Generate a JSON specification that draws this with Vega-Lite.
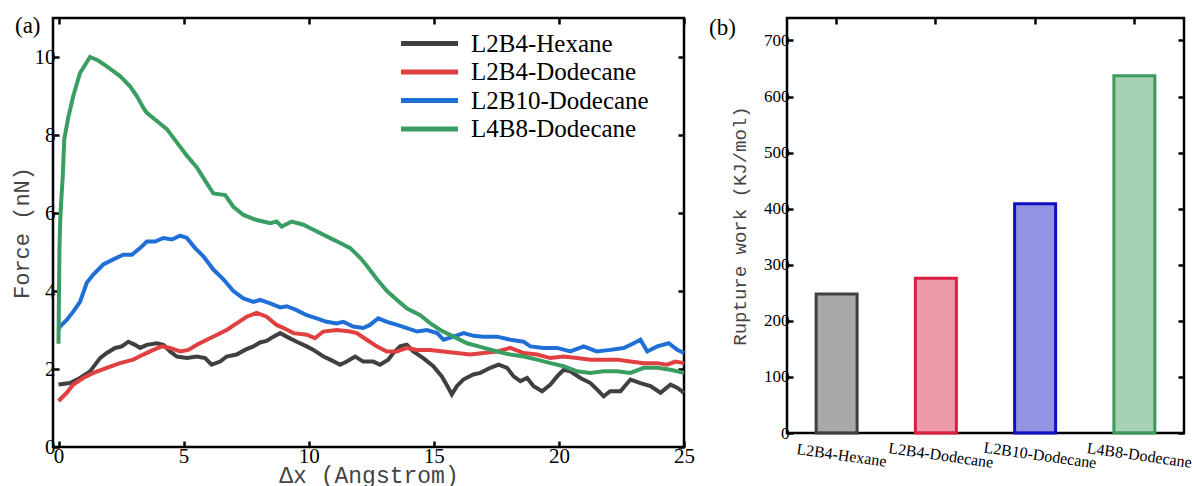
{
  "$schema": "https://vega.github.io/schema/vega-lite/v6.json",
  "background": "white",
  "padding": {"left": 8, "top": 13, "right": 5, "bottom": 0},
  "spacing": 11,
  "config": {
    "view": {"stroke": "black", "strokeWidth": 2.5},
    "font": "Liberation Serif",
    "axis": {
      "grid": false, "domain": false, "tickColor": "black", "tickWidth": 2.5, "tickSize": -6,
      "labelFont": "Liberation Serif", "labelColor": "black", "labelFontSize": 21,
      "titleFont": "Liberation Mono", "titleFontWeight": "normal", "titleColor": "#444444", "titleFontSize": 20
    },
    "title": {"font": "Liberation Serif", "fontWeight": "normal", "fontSize": 23, "color": "black"}
  },
  "hconcat": [
    {
      "width": 631,
      "height": 429,
      "title": {"text": "(a)", "anchor": "start", "frame": "group", "orient": "top", "offset": -21, "dx": -38},
      "data": {"values": [
        {"s":"L2B4-Hexane","x":0,"f":1.60},{"s":"L2B4-Hexane","x":0.46,"f":1.64},{"s":"L2B4-Hexane","x":0.86,"f":1.77},{"s":"L2B4-Hexane","x":1.26,"f":1.94},{"s":"L2B4-Hexane","x":1.66,"f":2.28},{"s":"L2B4-Hexane","x":1.93,"f":2.41},{"s":"L2B4-Hexane","x":2.26,"f":2.54},{"s":"L2B4-Hexane","x":2.53,"f":2.58},{"s":"L2B4-Hexane","x":2.79,"f":2.70},{"s":"L2B4-Hexane","x":3.06,"f":2.62},{"s":"L2B4-Hexane","x":3.26,"f":2.54},{"s":"L2B4-Hexane","x":3.53,"f":2.62},{"s":"L2B4-Hexane","x":3.93,"f":2.66},{"s":"L2B4-Hexane","x":4.19,"f":2.62},{"s":"L2B4-Hexane","x":4.46,"f":2.45},{"s":"L2B4-Hexane","x":4.73,"f":2.32},{"s":"L2B4-Hexane","x":5.13,"f":2.28},{"s":"L2B4-Hexane","x":5.53,"f":2.32},{"s":"L2B4-Hexane","x":5.86,"f":2.28},{"s":"L2B4-Hexane","x":6.12,"f":2.11},{"s":"L2B4-Hexane","x":6.46,"f":2.19},{"s":"L2B4-Hexane","x":6.72,"f":2.32},{"s":"L2B4-Hexane","x":7.12,"f":2.37},{"s":"L2B4-Hexane","x":7.45,"f":2.49},{"s":"L2B4-Hexane","x":7.79,"f":2.58},{"s":"L2B4-Hexane","x":8.05,"f":2.68},{"s":"L2B4-Hexane","x":8.32,"f":2.72},{"s":"L2B4-Hexane","x":8.59,"f":2.83},{"s":"L2B4-Hexane","x":8.86,"f":2.92},{"s":"L2B4-Hexane","x":9.12,"f":2.83},{"s":"L2B4-Hexane","x":9.52,"f":2.70},{"s":"L2B4-Hexane","x":9.92,"f":2.58},{"s":"L2B4-Hexane","x":10.19,"f":2.49},{"s":"L2B4-Hexane","x":10.59,"f":2.32},{"s":"L2B4-Hexane","x":10.86,"f":2.24},{"s":"L2B4-Hexane","x":11.26,"f":2.11},{"s":"L2B4-Hexane","x":11.52,"f":2.19},{"s":"L2B4-Hexane","x":11.86,"f":2.32},{"s":"L2B4-Hexane","x":12.18,"f":2.19},{"s":"L2B4-Hexane","x":12.58,"f":2.19},{"s":"L2B4-Hexane","x":12.85,"f":2.11},{"s":"L2B4-Hexane","x":13.18,"f":2.24},{"s":"L2B4-Hexane","x":13.38,"f":2.41},{"s":"L2B4-Hexane","x":13.65,"f":2.58},{"s":"L2B4-Hexane","x":13.92,"f":2.62},{"s":"L2B4-Hexane","x":14.18,"f":2.45},{"s":"L2B4-Hexane","x":14.58,"f":2.28},{"s":"L2B4-Hexane","x":14.98,"f":2.07},{"s":"L2B4-Hexane","x":15.32,"f":1.81},{"s":"L2B4-Hexane","x":15.58,"f":1.52},{"s":"L2B4-Hexane","x":15.72,"f":1.35},{"s":"L2B4-Hexane","x":15.92,"f":1.56},{"s":"L2B4-Hexane","x":16.18,"f":1.73},{"s":"L2B4-Hexane","x":16.58,"f":1.86},{"s":"L2B4-Hexane","x":16.86,"f":1.90},{"s":"L2B4-Hexane","x":17.26,"f":2.03},{"s":"L2B4-Hexane","x":17.59,"f":2.11},{"s":"L2B4-Hexane","x":17.93,"f":2.03},{"s":"L2B4-Hexane","x":18.19,"f":1.81},{"s":"L2B4-Hexane","x":18.46,"f":1.69},{"s":"L2B4-Hexane","x":18.73,"f":1.77},{"s":"L2B4-Hexane","x":18.99,"f":1.56},{"s":"L2B4-Hexane","x":19.33,"f":1.43},{"s":"L2B4-Hexane","x":19.66,"f":1.60},{"s":"L2B4-Hexane","x":19.93,"f":1.81},{"s":"L2B4-Hexane","x":20.19,"f":1.98},{"s":"L2B4-Hexane","x":20.46,"f":1.94},{"s":"L2B4-Hexane","x":20.86,"f":1.77},{"s":"L2B4-Hexane","x":21.26,"f":1.64},{"s":"L2B4-Hexane","x":21.53,"f":1.47},{"s":"L2B4-Hexane","x":21.79,"f":1.30},{"s":"L2B4-Hexane","x":22.05,"f":1.43},{"s":"L2B4-Hexane","x":22.46,"f":1.43},{"s":"L2B4-Hexane","x":22.86,"f":1.73},{"s":"L2B4-Hexane","x":23.26,"f":1.64},{"s":"L2B4-Hexane","x":23.66,"f":1.56},{"s":"L2B4-Hexane","x":24.06,"f":1.39},{"s":"L2B4-Hexane","x":24.46,"f":1.60},{"s":"L2B4-Hexane","x":24.73,"f":1.52},{"s":"L2B4-Hexane","x":25.0,"f":1.39},
        {"s":"L2B4-Dodecane","x":0,"f":1.18},{"s":"L2B4-Dodecane","x":0.33,"f":1.39},{"s":"L2B4-Dodecane","x":0.59,"f":1.60},{"s":"L2B4-Dodecane","x":0.99,"f":1.77},{"s":"L2B4-Dodecane","x":1.39,"f":1.90},{"s":"L2B4-Dodecane","x":1.93,"f":2.03},{"s":"L2B4-Dodecane","x":2.46,"f":2.15},{"s":"L2B4-Dodecane","x":2.99,"f":2.24},{"s":"L2B4-Dodecane","x":3.39,"f":2.37},{"s":"L2B4-Dodecane","x":3.79,"f":2.49},{"s":"L2B4-Dodecane","x":4.13,"f":2.58},{"s":"L2B4-Dodecane","x":4.46,"f":2.54},{"s":"L2B4-Dodecane","x":4.86,"f":2.45},{"s":"L2B4-Dodecane","x":5.19,"f":2.49},{"s":"L2B4-Dodecane","x":5.53,"f":2.62},{"s":"L2B4-Dodecane","x":5.93,"f":2.75},{"s":"L2B4-Dodecane","x":6.32,"f":2.87},{"s":"L2B4-Dodecane","x":6.72,"f":3.00},{"s":"L2B4-Dodecane","x":7.12,"f":3.17},{"s":"L2B4-Dodecane","x":7.52,"f":3.34},{"s":"L2B4-Dodecane","x":7.92,"f":3.44},{"s":"L2B4-Dodecane","x":8.32,"f":3.34},{"s":"L2B4-Dodecane","x":8.72,"f":3.13},{"s":"L2B4-Dodecane","x":9.0,"f":3.05},{"s":"L2B4-Dodecane","x":9.39,"f":2.92},{"s":"L2B4-Dodecane","x":9.92,"f":2.88},{"s":"L2B4-Dodecane","x":10.25,"f":2.79},{"s":"L2B4-Dodecane","x":10.58,"f":2.96},{"s":"L2B4-Dodecane","x":11.12,"f":3.00},{"s":"L2B4-Dodecane","x":11.66,"f":2.96},{"s":"L2B4-Dodecane","x":11.92,"f":2.92},{"s":"L2B4-Dodecane","x":12.32,"f":2.75},{"s":"L2B4-Dodecane","x":12.72,"f":2.58},{"s":"L2B4-Dodecane","x":13.12,"f":2.45},{"s":"L2B4-Dodecane","x":13.52,"f":2.45},{"s":"L2B4-Dodecane","x":13.92,"f":2.54},{"s":"L2B4-Dodecane","x":14.32,"f":2.49},{"s":"L2B4-Dodecane","x":14.85,"f":2.49},{"s":"L2B4-Dodecane","x":15.38,"f":2.45},{"s":"L2B4-Dodecane","x":15.92,"f":2.41},{"s":"L2B4-Dodecane","x":16.45,"f":2.37},{"s":"L2B4-Dodecane","x":16.99,"f":2.41},{"s":"L2B4-Dodecane","x":17.53,"f":2.45},{"s":"L2B4-Dodecane","x":18.06,"f":2.54},{"s":"L2B4-Dodecane","x":18.59,"f":2.41},{"s":"L2B4-Dodecane","x":19.13,"f":2.37},{"s":"L2B4-Dodecane","x":19.66,"f":2.28},{"s":"L2B4-Dodecane","x":20.19,"f":2.32},{"s":"L2B4-Dodecane","x":20.73,"f":2.28},{"s":"L2B4-Dodecane","x":21.26,"f":2.24},{"s":"L2B4-Dodecane","x":21.79,"f":2.24},{"s":"L2B4-Dodecane","x":22.33,"f":2.24},{"s":"L2B4-Dodecane","x":22.86,"f":2.19},{"s":"L2B4-Dodecane","x":23.39,"f":2.15},{"s":"L2B4-Dodecane","x":23.93,"f":2.15},{"s":"L2B4-Dodecane","x":24.32,"f":2.11},{"s":"L2B4-Dodecane","x":24.66,"f":2.19},{"s":"L2B4-Dodecane","x":25.0,"f":2.15},
        {"s":"L2B10-Dodecane","x":0,"f":3.0},{"s":"L2B10-Dodecane","x":0.06,"f":3.09},{"s":"L2B10-Dodecane","x":0.33,"f":3.26},{"s":"L2B10-Dodecane","x":0.59,"f":3.47},{"s":"L2B10-Dodecane","x":0.86,"f":3.72},{"s":"L2B10-Dodecane","x":1.13,"f":4.21},{"s":"L2B10-Dodecane","x":1.39,"f":4.42},{"s":"L2B10-Dodecane","x":1.79,"f":4.68},{"s":"L2B10-Dodecane","x":2.19,"f":4.81},{"s":"L2B10-Dodecane","x":2.59,"f":4.93},{"s":"L2B10-Dodecane","x":2.93,"f":4.93},{"s":"L2B10-Dodecane","x":3.26,"f":5.10},{"s":"L2B10-Dodecane","x":3.53,"f":5.27},{"s":"L2B10-Dodecane","x":3.86,"f":5.27},{"s":"L2B10-Dodecane","x":4.19,"f":5.36},{"s":"L2B10-Dodecane","x":4.53,"f":5.32},{"s":"L2B10-Dodecane","x":4.86,"f":5.42},{"s":"L2B10-Dodecane","x":5.13,"f":5.36},{"s":"L2B10-Dodecane","x":5.46,"f":5.10},{"s":"L2B10-Dodecane","x":5.79,"f":4.89},{"s":"L2B10-Dodecane","x":6.19,"f":4.55},{"s":"L2B10-Dodecane","x":6.59,"f":4.30},{"s":"L2B10-Dodecane","x":6.99,"f":4.00},{"s":"L2B10-Dodecane","x":7.39,"f":3.81},{"s":"L2B10-Dodecane","x":7.79,"f":3.72},{"s":"L2B10-Dodecane","x":8.06,"f":3.77},{"s":"L2B10-Dodecane","x":8.46,"f":3.68},{"s":"L2B10-Dodecane","x":8.86,"f":3.58},{"s":"L2B10-Dodecane","x":9.12,"f":3.61},{"s":"L2B10-Dodecane","x":9.52,"f":3.51},{"s":"L2B10-Dodecane","x":9.92,"f":3.38},{"s":"L2B10-Dodecane","x":10.32,"f":3.30},{"s":"L2B10-Dodecane","x":10.72,"f":3.21},{"s":"L2B10-Dodecane","x":11.12,"f":3.17},{"s":"L2B10-Dodecane","x":11.38,"f":3.21},{"s":"L2B10-Dodecane","x":11.78,"f":3.09},{"s":"L2B10-Dodecane","x":12.18,"f":3.05},{"s":"L2B10-Dodecane","x":12.45,"f":3.13},{"s":"L2B10-Dodecane","x":12.78,"f":3.30},{"s":"L2B10-Dodecane","x":13.13,"f":3.21},{"s":"L2B10-Dodecane","x":13.53,"f":3.13},{"s":"L2B10-Dodecane","x":13.93,"f":3.05},{"s":"L2B10-Dodecane","x":14.33,"f":2.96},{"s":"L2B10-Dodecane","x":14.73,"f":3.00},{"s":"L2B10-Dodecane","x":15.13,"f":2.92},{"s":"L2B10-Dodecane","x":15.39,"f":2.75},{"s":"L2B10-Dodecane","x":15.79,"f":2.83},{"s":"L2B10-Dodecane","x":16.19,"f":2.92},{"s":"L2B10-Dodecane","x":16.59,"f":2.85},{"s":"L2B10-Dodecane","x":16.99,"f":2.83},{"s":"L2B10-Dodecane","x":17.53,"f":2.83},{"s":"L2B10-Dodecane","x":18.06,"f":2.75},{"s":"L2B10-Dodecane","x":18.59,"f":2.70},{"s":"L2B10-Dodecane","x":18.86,"f":2.58},{"s":"L2B10-Dodecane","x":19.39,"f":2.54},{"s":"L2B10-Dodecane","x":19.93,"f":2.54},{"s":"L2B10-Dodecane","x":20.46,"f":2.45},{"s":"L2B10-Dodecane","x":20.99,"f":2.58},{"s":"L2B10-Dodecane","x":21.51,"f":2.45},{"s":"L2B10-Dodecane","x":22.05,"f":2.49},{"s":"L2B10-Dodecane","x":22.59,"f":2.54},{"s":"L2B10-Dodecane","x":22.99,"f":2.66},{"s":"L2B10-Dodecane","x":23.26,"f":2.75},{"s":"L2B10-Dodecane","x":23.53,"f":2.45},{"s":"L2B10-Dodecane","x":23.93,"f":2.58},{"s":"L2B10-Dodecane","x":24.39,"f":2.66},{"s":"L2B10-Dodecane","x":24.73,"f":2.49},{"s":"L2B10-Dodecane","x":25.0,"f":2.41},
        {"s":"L4B8-Dodecane","x":0,"f":2.65},{"s":"L4B8-Dodecane","x":0.02,"f":4.0},{"s":"L4B8-Dodecane","x":0.04,"f":5.14},{"s":"L4B8-Dodecane","x":0.07,"f":5.82},{"s":"L4B8-Dodecane","x":0.11,"f":6.33},{"s":"L4B8-Dodecane","x":0.17,"f":6.93},{"s":"L4B8-Dodecane","x":0.23,"f":7.89},{"s":"L4B8-Dodecane","x":0.39,"f":8.45},{"s":"L4B8-Dodecane","x":0.59,"f":9.0},{"s":"L4B8-Dodecane","x":0.86,"f":9.59},{"s":"L4B8-Dodecane","x":1.26,"f":10.0},{"s":"L4B8-Dodecane","x":1.59,"f":9.91},{"s":"L4B8-Dodecane","x":1.93,"f":9.76},{"s":"L4B8-Dodecane","x":2.46,"f":9.51},{"s":"L4B8-Dodecane","x":2.86,"f":9.25},{"s":"L4B8-Dodecane","x":3.13,"f":9.0},{"s":"L4B8-Dodecane","x":3.39,"f":8.70},{"s":"L4B8-Dodecane","x":3.53,"f":8.57},{"s":"L4B8-Dodecane","x":3.93,"f":8.36},{"s":"L4B8-Dodecane","x":4.33,"f":8.15},{"s":"L4B8-Dodecane","x":4.73,"f":7.81},{"s":"L4B8-Dodecane","x":5.13,"f":7.47},{"s":"L4B8-Dodecane","x":5.53,"f":7.17},{"s":"L4B8-Dodecane","x":5.93,"f":6.76},{"s":"L4B8-Dodecane","x":6.19,"f":6.50},{"s":"L4B8-Dodecane","x":6.66,"f":6.46},{"s":"L4B8-Dodecane","x":6.99,"f":6.16},{"s":"L4B8-Dodecane","x":7.39,"f":5.95},{"s":"L4B8-Dodecane","x":7.92,"f":5.82},{"s":"L4B8-Dodecane","x":8.46,"f":5.74},{"s":"L4B8-Dodecane","x":8.72,"f":5.78},{"s":"L4B8-Dodecane","x":8.92,"f":5.65},{"s":"L4B8-Dodecane","x":9.32,"f":5.78},{"s":"L4B8-Dodecane","x":9.79,"f":5.70},{"s":"L4B8-Dodecane","x":10.19,"f":5.57},{"s":"L4B8-Dodecane","x":10.72,"f":5.40},{"s":"L4B8-Dodecane","x":11.26,"f":5.23},{"s":"L4B8-Dodecane","x":11.66,"f":5.10},{"s":"L4B8-Dodecane","x":12.06,"f":4.85},{"s":"L4B8-Dodecane","x":12.33,"f":4.64},{"s":"L4B8-Dodecane","x":12.73,"f":4.30},{"s":"L4B8-Dodecane","x":13.13,"f":4.00},{"s":"L4B8-Dodecane","x":13.53,"f":3.77},{"s":"L4B8-Dodecane","x":13.93,"f":3.55},{"s":"L4B8-Dodecane","x":14.46,"f":3.38},{"s":"L4B8-Dodecane","x":14.86,"f":3.17},{"s":"L4B8-Dodecane","x":15.26,"f":3.00},{"s":"L4B8-Dodecane","x":15.79,"f":2.83},{"s":"L4B8-Dodecane","x":16.33,"f":2.66},{"s":"L4B8-Dodecane","x":16.79,"f":2.58},{"s":"L4B8-Dodecane","x":17.53,"f":2.45},{"s":"L4B8-Dodecane","x":18.06,"f":2.37},{"s":"L4B8-Dodecane","x":18.59,"f":2.32},{"s":"L4B8-Dodecane","x":19.13,"f":2.24},{"s":"L4B8-Dodecane","x":19.66,"f":2.15},{"s":"L4B8-Dodecane","x":20.19,"f":2.07},{"s":"L4B8-Dodecane","x":20.73,"f":1.94},{"s":"L4B8-Dodecane","x":21.26,"f":1.90},{"s":"L4B8-Dodecane","x":21.79,"f":1.94},{"s":"L4B8-Dodecane","x":22.33,"f":1.94},{"s":"L4B8-Dodecane","x":22.86,"f":1.90},{"s":"L4B8-Dodecane","x":23.39,"f":2.03},{"s":"L4B8-Dodecane","x":23.93,"f":2.03},{"s":"L4B8-Dodecane","x":24.46,"f":1.98},{"s":"L4B8-Dodecane","x":25.0,"f":1.90}
      ]},
      "resolve": {"axis": {"x": "independent", "y": "independent"}},
      "layer": [
        {
          "mark": {"type": "line", "strokeWidth": 4},
          "encoding": {
            "x": {"field": "x", "type": "quantitative", "scale": {"domain": [-0.22, 25], "nice": false, "zero": false},
                  "axis": {"values": [0, 5, 10, 15, 20, 25], "title": "Δx (Angstrom)", "titleFontSize": 23, "labelPadding": 4, "titlePadding": -2, "labelFlush": false}},
            "y": {"field": "f", "type": "quantitative", "scale": {"domain": [0, 11], "nice": false},
                  "axis": {"values": [0, 2, 4, 6, 8, 10], "title": "Force (nN)", "titleFontSize": 22, "labelPadding": 4, "titlePadding": 1, "labelFlush": false}},
            "color": {"field": "s", "type": "nominal", "sort": null,
                      "scale": {"domain": ["L2B4-Hexane", "L2B4-Dodecane", "L2B10-Dodecane", "L4B8-Dodecane"],
                                "range": ["#404040", "#e04040", "#1f6fd6", "#3a9e62"]},
                      "legend": {"orient": "none", "legendX": 364, "legendY": 13, "title": null, "symbolType": "M-3,0H3",
                                 "symbolSize": 361, "symbolStrokeWidth": 5, "labelFontSize": 25, "labelFont": "Liberation Serif",
                                 "labelColor": "black", "labelOffset": 29, "rowPadding": 2.5, "padding": 0, "labelLimit": 400}}
          }
        },
        {
          "mark": {"type": "line", "opacity": 0},
          "encoding": {
            "x": {"field": "x", "type": "quantitative", "scale": {"domain": [-0.22, 25], "nice": false, "zero": false},
                  "axis": {"orient": "top", "values": [0, 5, 10, 15, 20, 25], "labels": false, "title": null}},
            "y": {"field": "f", "type": "quantitative", "scale": {"domain": [0, 11], "nice": false},
                  "axis": {"orient": "right", "values": [0, 2, 4, 6, 8, 10], "labels": false, "title": null}},
            "detail": {"field": "s"}
          }
        }
      ]
    },
    {
      "width": 397,
      "height": 415,
      "title": {"text": "(b)", "anchor": "start", "frame": "group", "orient": "top", "offset": -23, "dx": -78},
      "data": {"values": [
        {"system": "L2B4-Hexane", "work": 248},
        {"system": "L2B4-Dodecane", "work": 276},
        {"system": "L2B10-Dodecane", "work": 409},
        {"system": "L4B8-Dodecane", "work": 637}
      ]},
      "resolve": {"axis": {"x": "independent", "y": "independent"}},
      "layer": [
        {
          "mark": {"type": "bar", "strokeWidth": 3, "fillOpacity": 0.45},
          "encoding": {
            "x": {"field": "system", "type": "nominal", "sort": null, "scale": {"paddingInner": 0.587, "paddingOuter": 0.2935},
                  "axis": {"title": null, "labelAngle": 8, "labelAlign": "center", "labelBaseline": "top", "labelFontSize": 16, "labelPadding": 14, "labelOffset": 6, "ticks": false}},
            "y": {"field": "work", "type": "quantitative", "scale": {"domain": [0, 740], "nice": false},
                  "axis": {"values": [0, 100, 200, 300, 400, 500, 600, 700], "title": "Rupture work (KJ/mol)", "titleFontSize": 19, "labelFontSize": 17, "labelPadding": 4, "titlePadding": 14}},
            "fill": {"field": "system", "type": "nominal", "sort": null, "legend": null,
                     "scale": {"domain": ["L2B4-Hexane", "L2B4-Dodecane", "L2B10-Dodecane", "L4B8-Dodecane"], "range": ["#404040", "#dc1e40", "#1010c0", "#3a9a5a"]}},
            "stroke": {"field": "system", "type": "nominal", "sort": null, "legend": null,
                       "scale": {"domain": ["L2B4-Hexane", "L2B4-Dodecane", "L2B10-Dodecane", "L4B8-Dodecane"], "range": ["#404040", "#dc1e40", "#1010c0", "#3a9a5a"]}}
          }
        },
        {
          "mark": {"type": "bar", "opacity": 0},
          "encoding": {
            "x": {"field": "system", "type": "nominal", "sort": null, "scale": {"paddingInner": 0.587, "paddingOuter": 0.2935},
                  "axis": {"orient": "top", "labels": false, "title": null}},
            "y": {"field": "work", "type": "quantitative", "scale": {"domain": [0, 740], "nice": false},
                  "axis": {"orient": "right", "values": [0, 100, 200, 300, 400, 500, 600, 700], "labels": false, "title": null}}
          }
        }
      ]
    }
  ]
}
